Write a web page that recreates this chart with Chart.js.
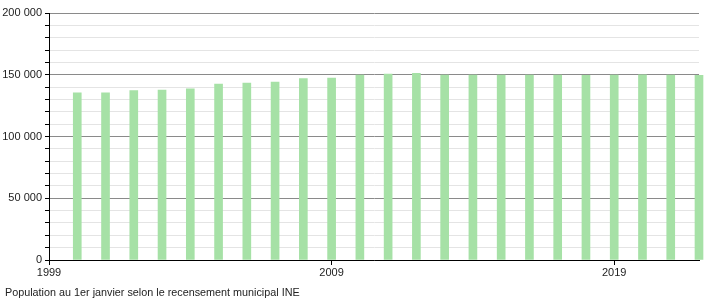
<!DOCTYPE html>
<html>
<head>
<meta charset="utf-8">
<script src="https://cdn.jsdelivr.net/npm/chart.js@4/dist/chart.umd.min.js"></script>
<style>
html,body{margin:0;padding:0;background:#fff;}
#wrap{position:relative;width:710px;height:300px;}
</style>
</head>
<body>
<div id="wrap"><canvas id="c" width="710" height="300"></canvas></div>
<script>
const years = [2000,2001,2002,2003,2004,2005,2006,2007,2008,2009,2010,2011,2012,2013,2014,2015,2016,2017,2018,2019,2020,2021,2022];
const population = [135400,135400,137100,137600,138700,142500,143300,144100,147000,147400,149800,150600,151200,149800,149700,149800,149700,149700,149600,149800,149900,149700,149600];
const xTickYears = [1999,2009,2019];
const caption = "Population au 1er janvier selon le recensement municipal INE";

const FONT = '"Liberation Sans", Arial, Helvetica, sans-serif';
const fmt = v => String(v).replace(/\B(?=(\d{3})+(?!\d))/g, ' ');

const captionPlugin = {
  id: 'caption',
  afterDraw(chart) {
    const ctx = chart.ctx;
    ctx.save();
    ctx.font = '10.8px ' + FONT;
    ctx.fillStyle = '#222';
    ctx.textBaseline = 'alphabetic';
    ctx.textAlign = 'left';
    ctx.fillText(caption, 5, 296);
    ctx.restore();
  }
};

new Chart(document.getElementById('c'), {
  type: 'bar',
  data: {
    datasets: [{
      data: years.map((y, i) => ({x: y, y: population[i]})),
      backgroundColor: '#a6e1a6',
      borderWidth: 0,
      barThickness: 8,
      clip: false
    }]
  },
  options: {
    responsive: false,
    animation: false,
    events: [],
    layout: {padding: {top: 13, right: 11, left: 0, bottom: 21}},
    plugins: {legend: {display: false}, tooltip: {enabled: false}, title: {display: false}},
    scales: {
      x: {
        type: 'linear',
        min: 1999, max: 2022,
        offset: false,
        afterBuildTicks: s => { s.ticks = xTickYears.map(v => ({value: v})); },
        afterFit: s => { s.height = 19; },
        border: {display: true, color: '#000', width: 1},
        grid: {offset: false, drawOnChartArea: false, drawTicks: true, tickLength: 5, tickColor: '#000'},
        ticks: {
          font: {family: FONT, size: 11}, color: '#222', padding: 1, maxRotation: 0,
          callback: v => String(v)
        }
      },
      y: {
        min: 0, max: 200000,
        afterBuildTicks: s => { const t = []; for (let v = 0; v <= 200000; v += 10000) t.push({value: v}); s.ticks = t; },
        afterFit: s => { s.width = 49; },
        border: {display: true, color: '#000', width: 1},
        grid: {
          color: c => (c.tick && c.tick.value % 50000 === 0) ? '#8a8a8a' : '#e4e4e4',
          lineWidth: 1,
          drawTicks: true, tickLength: 4, tickColor: '#000'
        },
        ticks: {
          font: {family: FONT, size: 11}, color: '#222', padding: 3, autoSkip: false,
          callback: v => (v % 50000 === 0) ? fmt(v) : ''
        }
      }
    }
  },
  plugins: [captionPlugin]
});
</script>
</body>
</html>
